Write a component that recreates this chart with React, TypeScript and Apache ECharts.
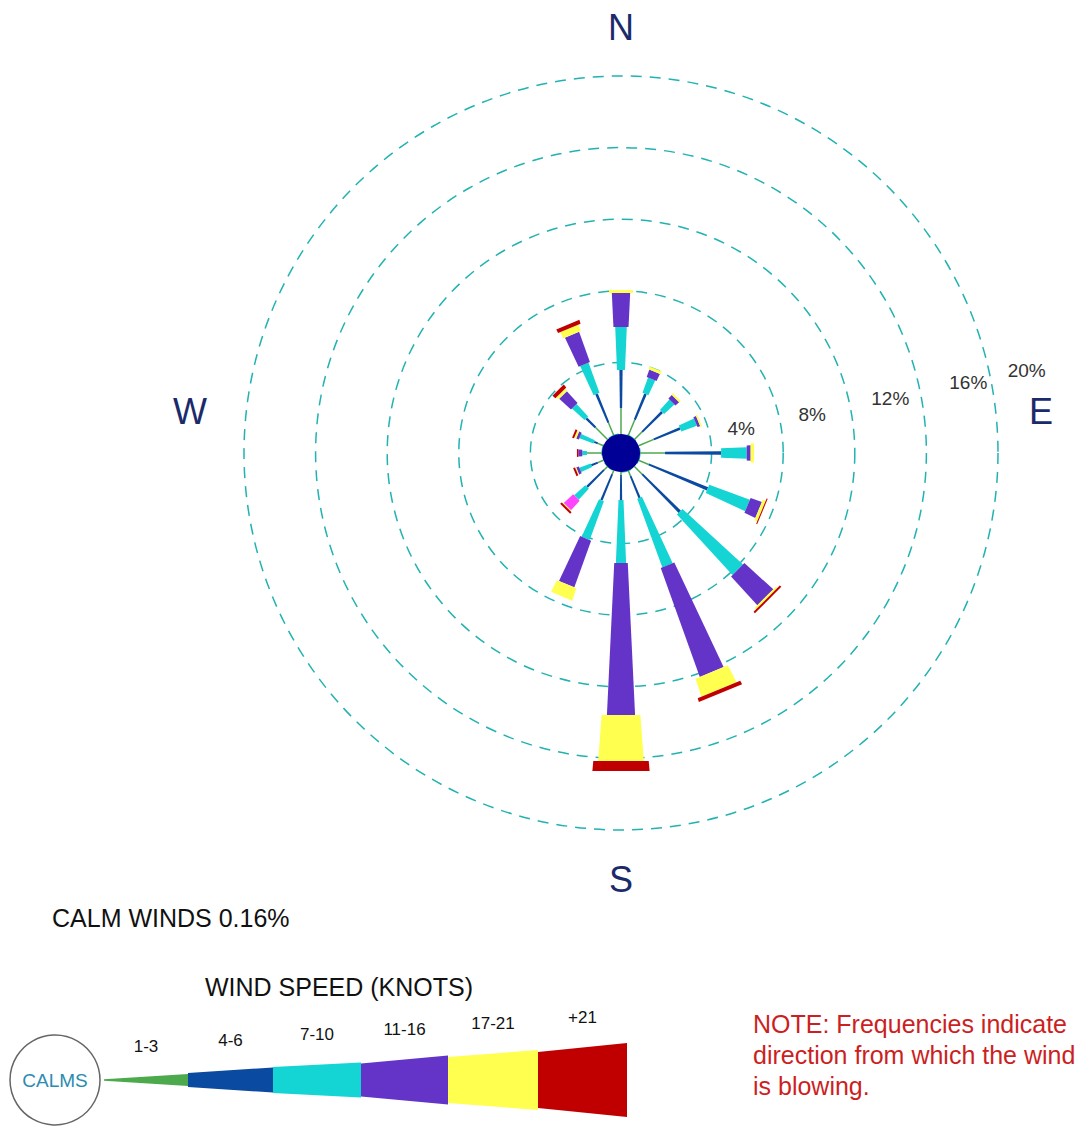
import React, { useEffect, useRef } from "react";
import * as echarts from "echarts";

// ---------------- DATA ----------------
const directions = ["N", "NNE", "NE", "ENE", "E", "ESE", "SE", "SSE", "S", "SSW", "SW", "WSW", "W", "WNW", "NW", "NNW"];
const speedClasses = ["1-3", "4-6", "7-10", "11-16", "17-21", "+21"];
// frequency (%) per direction for each wind-speed class
const speed1to3 = [1.45, 0.95, 0.61, 0.92, 1.4, 0.61, 0.61, 0.34, 0.17, 0.22, 0.28, 0.34, 0.84, 0.34, 0.95, 0.78];
const speed4to6 = [2.13, 1.56, 1.57, 1.59, 3.13, 3.56, 2.97, 1.31, 1.39, 1.57, 1.34, 0.39, 0, 0.22, 0.73, 1.73];
const speed7to10 = [2.4, 0.9, 0.78, 0.93, 1.43, 2.42, 4.58, 4.08, 3.52, 2.31, 0.84, 0.67, 0.26, 0.84, 0.95, 1.79];
const speed11to16 = [1.9, 0.44, 0.28, 0.16, 0.22, 0.67, 2.18, 6.45, 8.5, 2.77, 0.72, 0.16, 0.22, 0.16, 0.89, 1.79];
const speed17to21 = [0.16, 0.17, 0.11, 0.09, 0.19, 0.17, 0.11, 1.06, 2.57, 0.73, 0.05, 0.06, 0, 0.12, 0.17, 0.39];
const speedOver21 = [0, 0, 0, 0, 0, 0.06, 0.11, 0.22, 0.55, 0, 0.12, 0.11, 0.08, 0.11, 0.22, 0.22];
const ringTicks = [4, 8, 12, 16, 20];
const compassPoints = ["N", "E", "S", "W"];
const calmPct = 0.16;

// ---------------- STYLE ----------------
const FONT = "'Liberation Sans', Arial, sans-serif";
const classColors = ["#4caa4c", "#0a4aa0", "#14d4d4", "#6434c8", "#ffff50", "#c00000"];
const accentSegment = { dir: "SW", cls: 3, color: "#ff44ff" };
const ringColor = "#22b2b2";
const ringLabelAngle = 78.5;
const ringLabelOffsets = [32, 33, 41, 49, 37];
const compassColor = "#1b2a6b";

function halfWidth(k: number, rp: number): number {
  switch (k) {
    case 0:
      return 0.75;
    case 1:
      return 0.6 + 0.012 * rp;
    case 2:
      return 0.5 + 0.042 * rp;
    case 3:
      return 1.5 + 0.048 * rp;
    case 4:
      return 0.074 * rp;
    default:
      return 0.09 * rp;
  }
}

const classValues = [speed1to3, speed4to6, speed7to10, speed11to16, speed17to21, speedOver21];
const step = 360 / directions.length;

function buildSeries() {
  const cumulative = directions.map(() => 0);
  const series: any[] = [];
  classValues.forEach((vals, k) => {
    const data = directions.map((d, i) => {
      const start = cumulative[i];
      const end = start + vals[i];
      cumulative[i] = end;
      return [i * step, start, end, i];
    });
    series.push({
      type: "custom",
      name: speedClasses[k],
      coordinateSystem: "polar",
      silent: true,
      data,
      renderItem: (params: any, api: any) => {
        const ang = api.value(0);
        const v0 = api.value(1);
        const v1 = api.value(2);
        const di = api.value(3);
        if (!(v1 - v0 > 0)) return { type: "group", children: [] };
        const cs = params.coordSys;
        const a = api.coord([v0, ang]);
        const b = api.coord([v1, ang]);
        const dx = b[0] - cs.cx;
        const dy = b[1] - cs.cy;
        const len = Math.sqrt(dx * dx + dy * dy) || 1;
        const ux = dx / len;
        const uy = dy / len;
        const nx = -uy;
        const ny = ux;
        const rp0 = Math.hypot(a[0] - cs.cx, a[1] - cs.cy);
        const rp1 = len;
        const h0 = halfWidth(k, rp0);
        const h1 = halfWidth(k, rp1);
        let fill = classColors[k];
        if (directions[di] === accentSegment.dir && k === accentSegment.cls) fill = accentSegment.color;
        return {
          type: "polygon",
          shape: {
            points: [
              [a[0] + nx * h0, a[1] + ny * h0],
              [b[0] + nx * h1, b[1] + ny * h1],
              [b[0] - nx * h1, b[1] - ny * h1],
              [a[0] - nx * h0, a[1] - ny * h0],
            ],
          },
          style: { fill, stroke: null },
        };
      },
    });
  });
  // calm disc at centre
  series.push({
    type: "custom",
    coordinateSystem: "polar",
    silent: true,
    data: [[0, 0]],
    z: 5,
    renderItem: (params: any) => {
      const cs = params.coordSys;
      return {
        type: "circle",
        shape: { cx: cs.cx, cy: cs.cy, r: cs.r0 },
        style: { fill: "#000096" },
      };
    },
  });
  // ring labels
  series.push({
    type: "custom",
    coordinateSystem: "polar",
    silent: true,
    data: ringTicks.map((v, i) => [v, ringLabelAngle, i]),
    renderItem: (params: any, api: any) => {
      const cs = params.coordSys;
      const v = api.value(0);
      const idx = api.value(2);
      const off = ringLabelOffsets[idx] ?? 36;
      const p = api.coord([v, api.value(1)]);
      const dx = p[0] - cs.cx;
      const dy = p[1] - cs.cy;
      const len = Math.sqrt(dx * dx + dy * dy) || 1;
      return {
        type: "text",
        style: {
          text: `${v}%`,
          x: p[0] + (dx / len) * off,
          y: p[1] + (dy / len) * off,
          fill: "#333333",
          fontSize: 19,
          fontFamily: FONT,
          align: "center",
          verticalAlign: "middle",
        },
      };
    },
  });
  return series;
}

// legend layout (div coordinates)
const legendX = [96, 180, 265, 353, 440, 530, 619];
const legendHalf = [
  [0.7, 6],
  [7, 12.5],
  [13, 17.5],
  [16.5, 24.5],
  [23, 30],
  [28, 37],
];
const legendCY = 1072;

function buildGraphic() {
  const g: any[] = [];
  g.push({
    type: "text",
    style: {
      text: `CALM WINDS ${calmPct.toFixed(2)}%`,
      x: 44,
      y: 910,
      fill: "#111111",
      fontSize: 25,
      fontFamily: FONT,
      align: "left",
      verticalAlign: "middle",
    },
  });
  g.push({
    type: "text",
    style: {
      text: "WIND SPEED (KNOTS)",
      x: 331,
      y: 979,
      fill: "#111111",
      fontSize: 25,
      fontFamily: FONT,
      align: "center",
      verticalAlign: "middle",
    },
  });
  g.push({
    type: "circle",
    shape: { cx: 47, cy: legendCY, r: 45 },
    style: { fill: "#ffffff", stroke: "#666666", lineWidth: 1.5 },
  });
  g.push({
    type: "text",
    style: {
      text: "CALMS",
      x: 47,
      y: legendCY,
      fill: "#2a8cb0",
      fontSize: 19,
      fontFamily: FONT,
      align: "center",
      verticalAlign: "middle",
    },
  });
  speedClasses.forEach((label, k) => {
    const x0 = legendX[k];
    const x1 = legendX[k + 1];
    const [h0, h1] = legendHalf[k];
    g.push({
      type: "polygon",
      shape: {
        points: [
          [x0, legendCY - h0],
          [x1, legendCY - h1],
          [x1, legendCY + h1],
          [x0, legendCY + h0],
        ],
      },
      style: { fill: classColors[k] },
    });
    g.push({
      type: "text",
      style: {
        text: label,
        x: (x0 + x1) / 2,
        y: legendCY - (h0 + h1) / 2 - 30,
        fill: "#111111",
        fontSize: 17,
        fontFamily: FONT,
        align: "center",
        verticalAlign: "middle",
      },
    });
  });
  g.push({
    type: "text",
    style: {
      text: "NOTE: Frequencies indicate\ndirection from which the wind\nis blowing.",
      x: 745,
      y: 1000,
      fill: "#cc1f1f",
      fontSize: 25,
      lineHeight: 31,
      fontFamily: FONT,
      align: "left",
      verticalAlign: "top",
    },
  });
  return g;
}

export default function App() {
  const ref = useRef<HTMLDivElement>(null);
  useEffect(() => {
    if (!ref.current) return;
    const chart = echarts.init(ref.current, null, { renderer: "svg" });
    const compassRich = {
      ns: { fontSize: 36, fontFamily: FONT, color: compassColor },
      e: { fontSize: 36, fontFamily: FONT, color: compassColor, padding: [0, 0, 84, 0] },
      w: { fontSize: 36, fontFamily: FONT, color: compassColor, padding: [0, 6, 84, 0] },
    };
    chart.setOption({
      animation: false,
      backgroundColor: "#ffffff",
      polar: { center: [613, 445], radius: [19, 377] },
      angleAxis: {
        type: "value",
        min: 0,
        max: 360,
        interval: 90,
        startAngle: 90,
        clockwise: true,
        axisLine: { show: false },
        axisTick: { show: false },
        splitLine: { show: false },
        axisLabel: {
          margin: 31,
          fontSize: 36,
          fontFamily: FONT,
          color: compassColor,
          rich: compassRich,
          formatter: (v: number) => {
            const name = compassPoints[Math.round(v / 90)];
            if (!name || v >= 360) return "";
            if (name === "E") return `{e|${name}}`;
            if (name === "W") return `{w|${name}}`;
            return `{ns|${name}}`;
          },
        },
      },
      radiusAxis: {
        type: "value",
        min: 0,
        max: 20,
        interval: 4,
        axisLine: { show: false },
        axisTick: { show: false },
        axisLabel: { show: false },
        splitLine: { show: true, lineStyle: { color: ringColor, width: 1.5, type: [11, 8] } },
      },
      series: buildSeries(),
      graphic: buildGraphic(),
    });
    return () => chart.dispose();
  }, []);
  return <div ref={ref} style={{ width: 1076, height: 1118 }} />;
}
